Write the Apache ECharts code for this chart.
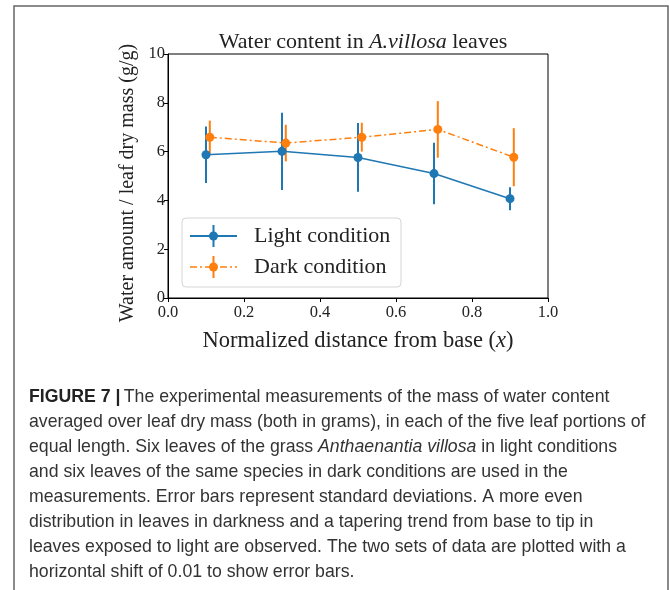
<!DOCTYPE html>
<html>
<head>
<meta charset="utf-8">
<script src="https://cdn.jsdelivr.net/npm/echarts@6/dist/echarts.min.js"></script>
<style>
  html, body { margin: 0; padding: 0; background: #fff; }
  #chart { width: 669px; height: 590px; }
</style>
</head>
<body>
<div id="chart"></div>
<script>
// positions along the leaf (dark set is shifted by 0.01)
const lightX = [0.1, 0.3, 0.5, 0.7, 0.9];
const darkX = [0.11, 0.31, 0.51, 0.71, 0.91];
const lightMean = [5.87, 6.01, 5.76, 5.10, 4.07];
const lightStd = [1.16, 1.58, 1.41, 1.26, 0.47];
const darkMean = [6.59, 6.35, 6.59, 6.91, 5.77];
const darkStd = [0.68, 0.75, 0.59, 1.16, 1.19];

const captionLines = [
  'The experimental measurements of the mass of water content',
  'averaged over leaf dry mass (both in grams), in each of the five leaf portions of',
  null,
  'and six leaves of the same species in dark conditions are used in the',
  'measurements. Error bars represent standard deviations. A more even',
  'distribution in leaves in darkness and a tapering trend from base to tip in',
  'leaves exposed to light are observed. The two sets of data are plotted with a',
  'horizontal shift of 0.01 to show error bars.'
];

const BLUE = '#1f77b4';
const ORANGE = '#ff7f0e';
const SERIF = '"Liberation Serif", "DejaVu Serif", serif';
const SANS = '"Liberation Sans", Roboto, sans-serif';
const CAP = '17.7px ' + SANS;

const chart = echarts.init(document.getElementById('chart'));

function pairs(xs, ys) {
  return xs.map((x, i) => [x, ys[i]]);
}
function errData(xs, ys, es) {
  return xs.map((x, i) => [x, ys[i] - es[i], ys[i] + es[i]]);
}
function errSeries(data, color) {
  return {
    type: 'custom',
    data: data,
    z: 3,
    silent: true,
    renderItem: function (params, api) {
      const lo = api.coord([api.value(0), api.value(1)]);
      const hi = api.coord([api.value(0), api.value(2)]);
      return {
        type: 'line',
        shape: { x1: lo[0], y1: lo[1], x2: hi[0], y2: hi[1] },
        style: { stroke: color, lineWidth: 2 }
      };
    }
  };
}

// legend + caption + frame + y axis name drawn as graphic
const graphics = [
  {
    type: 'rect', silent: true,
    shape: { x: 14, y: 6, width: 654, height: 600 },
    style: { fill: 'none', stroke: '#666', lineWidth: 1.5 }
  },
  {
    type: 'text', x: 128, y: 183, rotation: Math.PI / 2,
    style: {
      text: 'Water amount / leaf dry mass (g/g)',
      font: '20px ' + SERIF, fill: '#222', align: 'center', verticalAlign: 'middle'
    }
  },
  {
    type: 'group', x: 182, y: 218, z: 10,
    children: [
      { type: 'rect', shape: { x: 0, y: 0, width: 219, height: 69, r: 4 },
        style: { fill: 'rgba(255,255,255,0.85)', stroke: '#d5d5d5', lineWidth: 1 } },
      { type: 'line', shape: { x1: 8, y1: 18, x2: 55, y2: 18 }, style: { stroke: BLUE, lineWidth: 2 } },
      { type: 'line', shape: { x1: 31.5, y1: 7, x2: 31.5, y2: 29 }, style: { stroke: BLUE, lineWidth: 2 } },
      { type: 'circle', shape: { cx: 31.5, cy: 18, r: 4.5 }, style: { fill: BLUE } },
      { type: 'text', x: 72, y: 18, style: { text: 'Light condition', font: '22px ' + SERIF, fill: '#222', verticalAlign: 'middle' } },
      { type: 'line', shape: { x1: 8, y1: 49, x2: 55, y2: 49 }, style: { stroke: ORANGE, lineWidth: 1.5, lineDash: [7, 3, 2, 3] } },
      { type: 'line', shape: { x1: 31.5, y1: 38, x2: 31.5, y2: 60 }, style: { stroke: ORANGE, lineWidth: 2 } },
      { type: 'circle', shape: { cx: 31.5, cy: 49, r: 4.5 }, style: { fill: ORANGE } },
      { type: 'text', x: 72, y: 49, style: { text: 'Dark condition', font: '22px ' + SERIF, fill: '#222', verticalAlign: 'middle' } }
    ]
  },
  {
    type: 'text', x: 29, y: 397,
    style: {
      text: '{b|FIGURE 7 |} {n|' + captionLines[0] + '}',
      verticalAlign: 'middle',
      rich: {
        b: { font: 'bold ' + CAP, fill: '#222' },
        n: { font: CAP, fill: '#333' }
      }
    }
  },
  {
    type: 'text', x: 29, y: 447,
    style: {
      text: '{n|equal length. Six leaves of the grass }{i|Anthaenantia villosa}{n| in light conditions}',
      verticalAlign: 'middle',
      rich: {
        n: { font: CAP, fill: '#333' },
        i: { font: 'italic ' + CAP, fill: '#333' }
      }
    }
  }
];
captionLines.forEach((line, i) => {
  if (i === 0 || line === null) return;
  graphics.push({
    type: 'text', x: 29, y: 397 + i * 25,
    style: { text: line, font: CAP, fill: '#333', verticalAlign: 'middle' }
  });
});

const option = {
  backgroundColor: '#fff',
  animation: false,
  title: {
    text: '{a|Water content in }{b|A.villosa}{a| leaves}',
    left: 358, top: 26, textAlign: 'center',
    textStyle: {
      rich: {
        a: { fontFamily: SERIF, fontSize: 22, fontWeight: 'normal', color: '#222' },
        b: { fontFamily: SERIF, fontSize: 22, fontWeight: 'normal', fontStyle: 'italic', color: '#222' }
      }
    }
  },
  grid: {
    left: 168, right: 121, top: 54, bottom: 292,
    show: true, borderColor: '#000', borderWidth: 1, backgroundColor: 'transparent'
  },
  xAxis: {
    type: 'value', min: 0, max: 1, interval: 0.2,
    name: '{a|Normalized distance from base (}{b|x}{a|)}',
    nameLocation: 'middle', nameGap: 32,
    nameTextStyle: {
      rich: {
        a: { fontFamily: SERIF, fontSize: 22.5, color: '#222' },
        b: { fontFamily: SERIF, fontSize: 22.5, fontStyle: 'italic', color: '#222' }
      }
    },
    splitLine: { show: false },
    axisLine: { lineStyle: { color: '#000', width: 1 } },
    axisTick: { inside: false, length: 4, lineStyle: { color: '#000' } },
    axisLabel: { fontFamily: SERIF, fontSize: 16.5, color: '#222', margin: 6,
      formatter: v => v.toFixed(1) }
  },
  yAxis: {
    type: 'value', min: 0, max: 10, interval: 2,
    splitLine: { show: false },
    axisLine: { show: true, lineStyle: { color: '#000', width: 1 } },
    axisTick: { show: true, inside: false, length: 4, lineStyle: { color: '#000' } },
    axisLabel: { fontFamily: SERIF, fontSize: 16.5, color: '#222', margin: 3 }
  },
  series: [
    errSeries(errData(lightX, lightMean, lightStd), BLUE),
    errSeries(errData(darkX, darkMean, darkStd), ORANGE),
    {
      name: 'Light condition', type: 'line', data: pairs(lightX, lightMean),
      symbol: 'circle', symbolSize: 9, z: 4,
      itemStyle: { color: BLUE },
      lineStyle: { color: BLUE, width: 1.5 }
    },
    {
      name: 'Dark condition', type: 'line', data: pairs(darkX, darkMean),
      symbol: 'circle', symbolSize: 9, z: 4,
      itemStyle: { color: ORANGE },
      lineStyle: { color: ORANGE, width: 1.5, type: [7, 3, 2, 3] }
    }
  ],
  graphic: graphics
};

chart.setOption(option);
</script>
</body>
</html>
